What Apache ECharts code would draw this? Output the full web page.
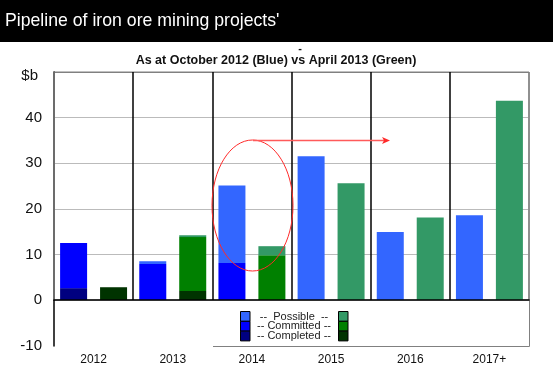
<!DOCTYPE html>
<html>
<head>
<meta charset="utf-8">
<script src="https://cdn.jsdelivr.net/npm/echarts@6/dist/echarts.min.js"></script>
<style>html,body{margin:0;padding:0;background:#fff}#c{width:553px;height:374px}</style>
</head>
<body>
<div id="c"></div>
<script>
var categories = ['2012', '2013', '2014', '2015', '2016', '2017+'];
// October 2012 (Blue) stack segments, $b
var blueCompleted = [2.6, 0, 0, 0, 0, 0];
var blueCommitted = [9.9, 7.9, 8.1, 0, 0, 0];
var bluePossible  = [0, 0.6, 17.0, 31.5, 14.9, 18.6];
// April 2013 (Green) stack segments, $b
var greenCompleted = [2.8, 2.0, 0, 0, 0, 0];
var greenCommitted = [0, 11.8, 9.8, 0, 0, 0];
var greenPossible  = [0, 0.4, 2.0, 25.6, 18.1, 43.7];
var yTicksTop = [0, 10, 20, 30, 40, 50];
var legendRows = ['--  Possible  --', '-- Committed --', '-- Completed --'];

var C = {
  bPos: '#3366FF', bCom: '#0000FF', bCpl: '#000080',
  gPos: '#339966', gCom: '#008000', gCpl: '#003300'
};
var FONT = 'Liberation Sans, Arial, sans-serif';

var chart = echarts.init(document.getElementById('c'), null, {renderer: 'canvas'});

function bar(name, data, stack, color) {
  return {
    name: name, type: 'bar', stack: stack, data: data,
    xAxisIndex: 0, yAxisIndex: 0,
    barWidth: 27, barGap: '48%',
    itemStyle: {color: color},
    emphasis: {disabled: true},
    silent: true
  };
}

var option = {
  animation: false,
  grid: [
    {left: 54, right: 24, top: 72, height: 228, show: true, borderColor: '#808080', borderWidth: 1, backgroundColor: 'transparent'},
    {left: 54, right: 24, top: 300, height: 46}
  ],
  xAxis: [
    {
      type: 'category', gridIndex: 0, data: categories,
      axisLine: {show: true, lineStyle: {color: '#000', width: 1.5}},
      axisTick: {show: false},
      axisLabel: {show: false},
      splitLine: {show: true, lineStyle: {color: ['#808080', '#000', '#000', '#000', '#000', '#000'], width: 1.5}},
      z: 5
    },
    {
      type: 'category', gridIndex: 1, data: categories,
      axisLine: {show: false},
      axisTick: {show: false},
      axisLabel: {show: true, margin: 8, color: '#111', fontFamily: FONT, fontSize: 12}
    }
  ],
  yAxis: [
    {
      type: 'value', gridIndex: 0, min: 0, max: 50, interval: 10,
      axisLine: {show: true, lineStyle: {color: '#000', width: 1.5}},
      axisTick: {show: false},
      axisLabel: {
        margin: 12, color: '#111', fontFamily: FONT, fontSize: 15,
        formatter: function (v) { return v === 50 ? '{d|$b}' : String(v); },
        rich: {d: {fontFamily: FONT, fontSize: 15, color: '#111', padding: [7, 4, 0, 0]}}
      },
      splitLine: {show: true, lineStyle: {color: ['#bbbbbb', '#bbbbbb', '#bbbbbb', '#bbbbbb', '#bbbbbb', '#808080'], width: 1}}
    },
    {
      type: 'value', gridIndex: 1, min: -10, max: 0, interval: 10,
      axisLine: {show: true, lineStyle: {color: '#000', width: 1.5}},
      axisTick: {show: false},
      axisLabel: {
        margin: 12, color: '#111', fontFamily: FONT, fontSize: 15,
        formatter: function (v) { return v === 0 ? '' : String(v); }
      },
      splitLine: {show: false}
    }
  ],
  series: [
    bar('Blue Completed', blueCompleted, 'blue', C.bCpl),
    bar('Blue Committed', blueCommitted, 'blue', C.bCom),
    bar('Blue Possible', bluePossible, 'blue', C.bPos),
    bar('Green Completed', greenCompleted, 'green', C.gCpl),
    bar('Green Committed', greenCommitted, 'green', C.gCom),
    bar('Green Possible', greenPossible, 'green', C.gPos)
  ],
  graphic: []
};

var g = [];
// Title bar
g.push({type: 'rect', shape: {x: 0, y: 0, width: 553, height: 42}, style: {fill: '#000'}, z: 10});
g.push({type: 'text', x: 5, y: 21, scaleX: 0.93, style: {text: "Pipeline of iron ore mining projects'", fill: '#fff', font: '19px ' + FONT, textVerticalAlign: 'middle'}, z: 11});
// subtitle
g.push({type: 'text', x: 300, y: 49, style: {text: '-', fill: '#111', font: 'bold 11px ' + FONT, textAlign: 'center', textVerticalAlign: 'middle'}, z: 11});
g.push({type: 'text', x: 276, y: 61, style: {text: 'As at October 2012 (Blue) vs April 2013 (Green)', fill: '#111', font: 'bold 12.5px ' + FONT, textAlign: 'center', textVerticalAlign: 'middle'}, z: 11});
// bottom frame pieces
g.push({type: 'line', shape: {x1: 213, y1: 346.5, x2: 529.5, y2: 346.5}, style: {stroke: '#808080', lineWidth: 1}, z: 4});
g.push({type: 'line', shape: {x1: 529.5, y1: 300, x2: 529.5, y2: 346.5}, style: {stroke: '#808080', lineWidth: 1}, z: 4});
// Legend
var blueSw = [C.bPos, C.bCom, C.bCpl];
var greenSw = [C.gPos, C.gCom, C.gCpl];
for (var i = 0; i < 3; i++) {
  g.push({type: 'rect', shape: {x: 240.5, y: 311.5 + i * 9.8, width: 9.5, height: 9.8}, style: {fill: blueSw[i], stroke: '#000', lineWidth: 1}, z: 12});
  g.push({type: 'rect', shape: {x: 338.5, y: 311.5 + i * 9.8, width: 9.5, height: 9.8}, style: {fill: greenSw[i], stroke: '#000', lineWidth: 1}, z: 12});
  g.push({type: 'text', x: 294, y: 316.5 + i * 9.8, style: {text: legendRows[i], fill: '#222', font: '11px ' + FONT, textAlign: 'center', textVerticalAlign: 'middle'}, z: 12});
}
// Red annotation ellipse and arrow
g.push({type: 'ellipse', shape: {cx: 252.5, cy: 205.5, rx: 40.5, ry: 65.5}, style: {fill: 'none', stroke: '#ff2a2a', lineWidth: 1}, z: 20});
g.push({type: 'line', shape: {x1: 253, y1: 140.5, x2: 386, y2: 140.5}, style: {stroke: '#ff5a5a', lineWidth: 1.5}, z: 20});
g.push({type: 'polygon', shape: {points: [[390, 140.5], [382, 137], [384, 140.5], [382, 144]]}, style: {fill: '#ff2a2a'}, z: 20});
option.graphic = g;

chart.setOption(option);
</script>
</body>
</html>
